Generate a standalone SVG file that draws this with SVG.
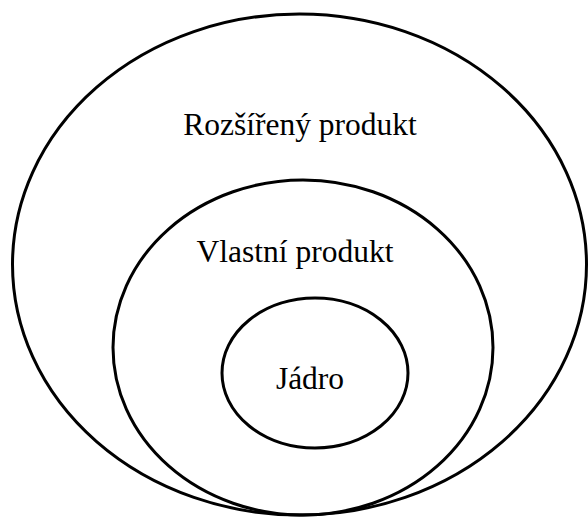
<svg xmlns="http://www.w3.org/2000/svg" width="588" height="517" viewBox="0 0 588 517">
<style>
.ring{fill:none;stroke:#000;stroke-width:3}
.lbl{font-family:"Liberation Serif","Times New Roman",serif;font-size:31.5px;fill:#000;text-anchor:middle}
</style>
<rect width="588" height="517" fill="#fff"/>
<g id="rozsireny">
<ellipse class="ring" cx="299.5" cy="264.5" rx="287" ry="250.5"/>
<text class="lbl" x="300" y="135">Rozšířený produkt</text>
</g>
<g id="vlastni">
<ellipse class="ring" cx="303" cy="347.5" rx="190" ry="167.5"/>
<text class="lbl" x="295" y="262">Vlastní produkt</text>
</g>
<g id="jadro">
<ellipse class="ring" cx="315" cy="373" rx="93" ry="75"/>
<text class="lbl" x="310" y="389">Jádro</text>
</g>
<g id="connectors"/>
</svg>
